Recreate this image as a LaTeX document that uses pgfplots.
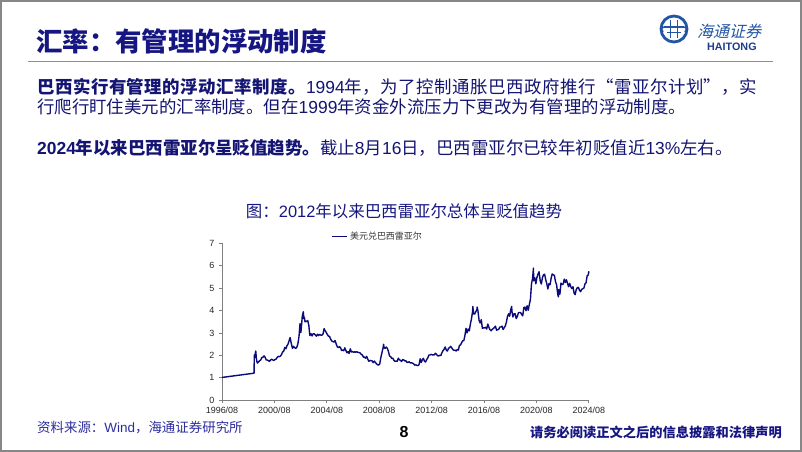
\documentclass[border=0pt]{standalone}
\usepackage{pgfplots}
\pgfplotsset{compat=1.18}
\usepackage{pgfplotstable}
\usepackage{fontspec}
\setmainfont{Liberation Sans}
\newfontfamily\cjk{Noto Sans CJK SC}
\newfontfamily\cjkwide{Noto Sans CJK SC}[LetterSpace=3.0]
\newfontfamily\cjkit{Noto Sans CJK SC}[FakeSlant=0.25]
\newcommand\lat[1]{{\rmfamily #1}}
\definecolor{navy}{RGB}{22,22,130}
\definecolor{txt}{RGB}{20,20,115}
\definecolor{foot}{RGB}{45,45,160}
\definecolor{logoblue}{RGB}{35,85,165}
\definecolor{logodark}{RGB}{30,60,140}
\definecolor{framegray}{RGB}{135,135,135}
\definecolor{rulec}{RGB}{125,145,185}
\definecolor{linec}{RGB}{10,10,120}

\pgfplotstableread{
x y
1996.583 1.02
1999.03 1.21
1999.05 2.02
1999.08 1.90
1999.12 2.08
1999.16 2.20
1999.20 1.90
1999.25 1.72
1999.29 1.66
1999.375 1.72
1999.46 1.77
1999.54 1.80
1999.625 1.91
1999.71 1.92
1999.79 1.98
1999.875 1.92
1999.96 1.80
2000.04 1.80
2000.125 1.77
2000.21 1.74
2000.29 1.80
2000.375 1.83
2000.46 1.80
2000.54 1.78
2000.625 1.82
2000.71 1.84
2000.79 1.91
2000.875 1.96
2000.96 1.95
2001.04 1.97
2001.125 2.04
2001.21 2.16
2001.29 2.19
2001.375 2.36
2001.46 2.30
2001.54 2.43
2001.625 2.51
2001.71 2.67
2001.78 2.80
2001.83 2.66
2001.875 2.53
2001.96 2.32
2002.04 2.41
2002.125 2.35
2002.21 2.32
2002.29 2.36
2002.375 2.52
2002.46 2.84
2002.54 3.43
2002.60 3.02
2002.65 3.30
2002.71 3.75
2002.79 3.95
2002.83 3.64
2002.875 3.70
2002.92 3.50
2002.96 3.53
2003.04 3.52
2003.125 3.56
2003.21 3.35
2003.29 2.89
2003.375 2.97
2003.46 2.87
2003.54 2.97
2003.625 2.97
2003.71 2.92
2003.79 2.86
2003.875 2.95
2003.96 2.89
2004.04 2.94
2004.125 2.91
2004.21 2.91
2004.29 2.95
2004.38 3.20
2004.46 3.10
2004.54 3.03
2004.625 2.94
2004.71 2.86
2004.79 2.86
2004.875 2.73
2004.96 2.65
2005.04 2.62
2005.125 2.60
2005.21 2.67
2005.29 2.53
2005.375 2.40
2005.46 2.35
2005.54 2.39
2005.625 2.36
2005.71 2.22
2005.79 2.25
2005.875 2.21
2005.96 2.34
2006.04 2.22
2006.125 2.12
2006.21 2.17
2006.29 2.09
2006.375 2.30
2006.46 2.16
2006.54 2.18
2006.625 2.14
2006.71 2.17
2006.79 2.14
2006.875 2.17
2006.96 2.14
2007.04 2.13
2007.125 2.12
2007.21 2.05
2007.29 2.03
2007.375 1.93
2007.46 1.93
2007.54 1.88
2007.625 1.96
2007.71 1.84
2007.79 1.74
2007.875 1.78
2007.96 1.77
2008.04 1.76
2008.125 1.68
2008.21 1.75
2008.29 1.69
2008.375 1.63
2008.46 1.59
2008.54 1.57
2008.625 1.63
2008.71 1.91
2008.79 2.12
2008.875 2.33
2008.92 2.50
2008.96 2.34
2009.04 2.32
2009.125 2.38
2009.21 2.31
2009.29 2.18
2009.375 1.97
2009.46 1.95
2009.54 1.87
2009.625 1.88
2009.71 1.78
2009.79 1.74
2009.875 1.75
2009.96 1.74
2010.04 1.88
2010.125 1.81
2010.21 1.78
2010.29 1.73
2010.375 1.82
2010.46 1.80
2010.54 1.76
2010.625 1.76
2010.71 1.69
2010.79 1.70
2010.875 1.72
2010.96 1.67
2011.04 1.67
2011.125 1.66
2011.21 1.63
2011.29 1.57
2011.375 1.58
2011.46 1.56
2011.54 1.55
2011.625 1.59
2011.71 1.85
2011.79 1.69
2011.875 1.81
2011.96 1.87
2012.04 1.74
2012.125 1.71
2012.21 1.82
2012.29 1.89
2012.375 2.02
2012.46 2.02
2012.54 2.05
2012.625 2.03
2012.71 2.03
2012.79 2.03
2012.875 2.10
2012.96 2.05
2013.04 1.99
2013.125 1.98
2013.21 2.01
2013.29 2.00
2013.375 2.13
2013.46 2.22
2013.54 2.28
2013.625 2.38
2013.71 2.23
2013.79 2.20
2013.875 2.32
2013.96 2.35
2014.04 2.41
2014.125 2.34
2014.21 2.26
2014.29 2.23
2014.375 2.24
2014.46 2.20
2014.54 2.27
2014.625 2.24
2014.71 2.45
2014.79 2.47
2014.875 2.57
2014.96 2.66
2015.04 2.66
2015.125 2.88
2015.21 3.21
2015.29 3.01
2015.375 3.18
2015.46 3.10
2015.54 3.39
2015.625 3.63
2015.71 3.96
2015.73 4.19
2015.79 3.86
2015.875 3.85
2015.96 3.96
2016.04 4.04
2016.06 4.16
2016.125 3.98
2016.21 3.56
2016.29 3.45
2016.375 3.60
2016.46 3.21
2016.54 3.24
2016.625 3.23
2016.71 3.26
2016.79 3.18
2016.875 3.40
2016.96 3.26
2017.04 3.15
2017.125 3.10
2017.21 3.17
2017.29 3.20
2017.375 3.25
2017.46 3.31
2017.54 3.13
2017.625 3.15
2017.71 3.17
2017.79 3.27
2017.875 3.27
2017.96 3.31
2018.04 3.16
2018.125 3.24
2018.21 3.32
2018.29 3.48
2018.375 3.74
2018.46 3.86
2018.54 3.75
2018.625 4.05
2018.70 4.19
2018.71 4.00
2018.79 3.72
2018.875 3.86
2018.96 3.87
2019.04 3.65
2019.125 3.74
2019.21 3.90
2019.29 3.92
2019.375 3.92
2019.46 3.83
2019.54 3.77
2019.625 4.14
2019.71 4.16
2019.79 4.00
2019.875 4.22
2019.96 4.02
2020.04 4.27
2020.125 4.49
2020.21 5.20
2020.29 5.43
2020.36 5.90
2020.375 5.34
2020.46 5.47
2020.54 5.20
2020.625 5.49
2020.71 5.64
2020.79 5.74
2020.875 5.33
2020.96 5.19
2021.04 5.47
2021.125 5.60
2021.21 5.63
2021.29 5.40
2021.375 5.21
2021.46 4.97
2021.54 5.20
2021.625 5.16
2021.71 5.45
2021.79 5.64
2021.875 5.60
2021.96 5.57
2022.04 5.30
2022.125 5.16
2022.21 4.74
2022.26 4.62
2022.29 4.94
2022.375 4.73
2022.46 5.23
2022.54 5.17
2022.625 5.18
2022.71 5.41
2022.79 5.26
2022.875 5.38
2022.96 5.22
2023.04 5.07
2023.125 5.22
2023.21 5.07
2023.29 4.99
2023.375 5.07
2023.46 4.79
2023.54 4.72
2023.625 4.94
2023.71 5.03
2023.79 5.04
2023.875 4.91
2023.96 4.85
2024.04 4.95
2024.125 4.98
2024.21 5.01
2024.29 5.19
2024.375 5.25
2024.46 5.56
2024.54 5.59
2024.58 5.74
2024.60 5.70
}\brl

\begin{document}
\begin{tikzpicture}[x=1bp,y=1bp]
\useasboundingbox (0,0) rectangle (802,452);
\fill[white] (0,0) rectangle (802,452);
\draw[framegray, line width=1.6bp] (0.8,0.8) rectangle (801.2,451.2);

% title
\node[anchor=west, inner sep=0pt, text=navy, font=\cjk\bfseries\fontsize{26.5}{28}\selectfont] at (36,411) {汇率：有管理的浮动制度};
\draw[rulec, line width=1.3bp] (28,390.5) -- (773,390.5);

% logo
\begin{scope}[shift={(674,423)}]
  \draw[logoblue, line width=2.8bp] (0,0) circle (13);
  \draw[logoblue, line width=1.8bp] (-3.5,-9) -- (-3.5,9) (3.5,-9) -- (3.5,9);
  \draw[logoblue, line width=1.6bp] (-10,2) -- (10,2) (-7,-3.5) -- (7,-3.5);
  \draw[logoblue, line width=1.4bp] (-10,2) arc (90:250:2.5) (10,2) arc (90:-70:2.5);
\end{scope}
\node[anchor=west, inner sep=0pt, text=logoblue, font=\cjkit\fontsize{16}{18}\selectfont] at (697,421) {海通证券};
\node[anchor=west, inner sep=0pt, text=logodark, font=\bfseries\fontsize{10.8}{12}\selectfont] at (707,405) {HAITONG};

% body text
\node[anchor=west, inner sep=0pt, text=txt, font=\cjkwide\fontsize{17.5}{20}\selectfont] at (37,365)
  {{\bfseries 巴西实行有管理的浮动汇率制度。}\lat{1994}年，为了控制通胀巴西政府推行“雷亚尔计划”，实};
\node[anchor=west, inner sep=0pt, text=txt, font=\cjk\fontsize{17.5}{20}\selectfont] at (37,345)
  {行爬行盯住美元的汇率制度。但在\lat{1999}年资金外流压力下更改为有管理的浮动制度。};
\node[anchor=west, inner sep=0pt, text=txt, font=\cjk\fontsize{17.5}{20}\selectfont] at (37,304)
  {{\bfseries \lat{2024}年以来巴西雷亚尔呈贬值趋势。}截止\lat{8}月\lat{16}日，巴西雷亚尔已较年初贬值近\lat{13\%}左右。};

% chart title
\node[anchor=center, inner sep=0pt, text=navy, font=\cjk\fontsize{16.5}{18}\selectfont] at (404,240.3)
  {图：\lat{2012}年以来巴西雷亚尔总体呈贬值趋势};

% footer
\node[anchor=west, inner sep=0pt, text=foot, font=\cjk\fontsize{13.5}{15}\selectfont] at (37,24)
  {资料来源：\lat{Wind}，海通证券研究所};
\node[anchor=center, inner sep=0pt, text=black, font=\bfseries\fontsize{16}{18}\selectfont] at (404,20) {8};
\node[anchor=east, inner sep=0pt, text=navy, font=\cjk\bfseries\fontsize{13.3}{15}\selectfont] at (782,19.5)
  {请务必阅读正文之后的信息披露和法律声明};

\begin{axis}[
  at={(222bp,51.7bp)}, anchor=south west,
  scale only axis, width=367bp, height=156.8bp,
  xmin=1996.583, xmax=2024.6, ymin=0, ymax=7,
  axis lines=left,
  axis line style={draw=gray, -, line width=0.8bp},
  xtick={1996.583,2000.583,2004.583,2008.583,2012.583,2016.583,2020.583,2024.583},
  xticklabels={1996/08,2000/08,2004/08,2008/08,2012/08,2016/08,2020/08,2024/08},
  ytick={0,1,2,3,4,5,6,7},
  tick align=outside,
  major tick length=3bp,
  tick style={gray, line width=0.8bp},
  tick label style={font=\fontsize{9}{10}\selectfont, text=black!85},
  yticklabel style={xshift=-1bp},
  /pgf/number format/assume math mode=true,
  clip=false,
  legend style={at={(0.299,1.043)}, anchor=west, draw=none, fill=none,
    inner sep=0pt, outer sep=0pt,
    font=\cjk\fontsize{9}{10}\selectfont, text=black!80,
    /tikz/every even column/.append style={column sep=2bp}},
  legend image code/.code={\draw[#1] (0bp,0bp) -- (15bp,0bp);},
]
\addplot[color=linec, line width=1.4bp, line join=round] table[x=x, y=y] {\brl};
\addlegendentry{美元兑巴西雷亚尔}
\end{axis}
\end{tikzpicture}
\end{document}
